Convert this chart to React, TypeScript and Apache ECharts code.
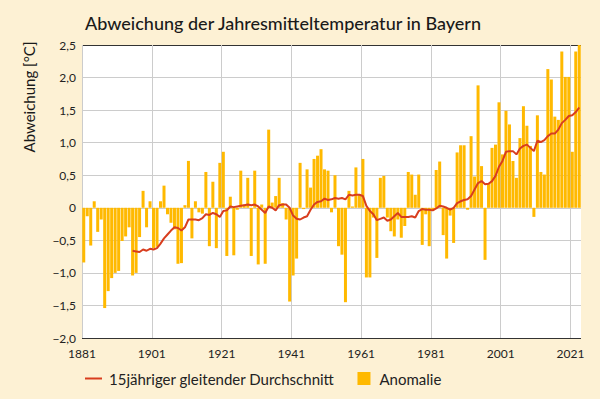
import React, { useEffect, useRef } from "react";
import * as echarts from "echarts";

const FIRST_YEAR = 1881;
// Annual anomaly (°C), 1881–2023
const anomalies = [
  -0.84, -0.13, -0.58, 0.1, -0.37, -0.18, -1.54, -1.28, -1.08, -1.0,
  -0.97, -0.51, -0.44, -0.3, -1.04, -1.0, -0.45, 0.26, -0.3, 0.1,
  -0.62, -0.6, 0.1, 0.34, -0.1, -0.23, -0.33, -0.86, -0.85, 0.04,
  0.72, -0.47, 0.1, -0.07, -0.09, 0.55, -0.59, 0.4, -0.62, 0.69,
  0.86, -0.74, 0.17, -0.73, -0.03, 0.57, 0.05, 0.46, -0.74, 0.57,
  -0.87, 0.05, -0.86, 1.2, 0.08, 0.18, 0.46, 0.07, -0.18, -1.44,
  -1.04, -0.78, 0.69, -0.02, 0.59, 0.31, 0.75, 0.8, 0.9, 0.59,
  0.57, -0.07, 0.5, -0.59, -0.72, -1.45, 0.26, 0.02, 0.62, 0.2,
  0.75, -1.07, -1.07, -0.15, -0.77, 0.46, 0.49, -0.15, -0.36, -0.44,
  -0.18, -0.46, -0.28, 0.55, 0.51, 0.2, 0.51, -0.57, -0.1, -0.59,
  -0.05, 0.58, 0.71, -0.42, -0.78, -0.12, -0.54, 0.85, 0.96, 0.96,
  -0.03, 1.1, 0.48, 1.88, 0.64, -0.8, 0.37, 0.92, 0.97, 1.62,
  0.82, 1.49, 1.28, 0.72, 0.46, 1.07, 1.56, 1.26, 0.95, -0.14,
  1.42, 0.55, 0.51, 2.13, 1.97, 1.4, 1.35, 2.4, 2.01, 2.01,
  0.86, 2.4, 2.52,
];

const MA_FIRST_YEAR = 1895;
// 15-year moving average (°C), 1895–2023
const movingAverage = [
  -0.66, -0.67, -0.68, -0.64, -0.66, -0.63,
  -0.64, -0.62, -0.55, -0.47, -0.41, -0.35, -0.3, -0.31, -0.35, -0.3,
  -0.18, -0.18, -0.18, -0.19, -0.16, -0.1, -0.11, -0.08, -0.1, -0.14,
  -0.05, -0.04, 0.02, 0.01, 0.02, 0.03, 0.04, 0.05, 0.04, 0.05,
  0.02, -0.03, -0.08, 0.02, 0.0, -0.04, 0.04, 0.05, 0.05, 0.0,
  -0.12, -0.17, -0.18, -0.15, -0.13, -0.03, 0.05, 0.09, 0.1, 0.14,
  0.12, 0.13, 0.15, 0.14, 0.15, 0.13, 0.2, 0.19, 0.2, 0.2,
  0.18, 0.03, -0.05, -0.1, -0.19, -0.17, -0.15, -0.2, -0.18, -0.13,
  -0.08, -0.14, -0.14, -0.14, -0.13, -0.15, -0.05, -0.02, -0.03, -0.03,
  -0.04, -0.01, 0.03, 0.02, 0.0, -0.03, 0.0, 0.07, 0.1, 0.12,
  0.13, 0.18, 0.28, 0.38, 0.41, 0.36, 0.37, 0.41, 0.49, 0.63,
  0.72, 0.86, 0.87, 0.87, 0.82, 0.91, 0.95, 0.97, 0.92, 0.87,
  1.03, 1.01, 1.04, 1.1, 1.14, 1.14, 1.2, 1.3, 1.35, 1.41,
  1.42, 1.47, 1.54,
];

const X_TICK_STEP = 20;
const Y_MIN = -2;
const Y_MAX = 2.5;
const Y_STEP = 0.5;

const TITLE = "Abweichung der Jahresmitteltemperatur in Bayern";
const Y_NAME = "Abweichung [°C]";
const LINE_NAME = "15jähriger gleitender Durchschnitt";
const BAR_NAME = "Anomalie";

const FONT = "Lato, 'Open Sans', sans-serif";
const GRID_GRAY = "#cccccc";
const DARK = "#333333";
const BAR_COLOR = "#FFB900";
const LINE_COLOR = "#D83D1E";

export default function App() {
  const ref = useRef<HTMLDivElement>(null);

  useEffect(() => {
    if (!ref.current) return;
    const chart = echarts.init(ref.current, null, { renderer: "svg" });
    const nYears = anomalies.length;
    const barData = anomalies.map((v, i) => [i + 0.5, v]);
    const lineData = movingAverage.map((v, i) => [MA_FIRST_YEAR - FIRST_YEAR + i + 0.5, v]);

    const nY = Math.round((Y_MAX - Y_MIN) / Y_STEP) + 1;
    const yLineColors = Array.from({ length: nY }, (_, k) => (k === 0 || k === nY - 1 ? DARK : GRID_GRAY));
    const nX = Math.floor(nYears / X_TICK_STEP) + 1;
    const xLineColors = [...Array.from({ length: nX }, () => GRID_GRAY), "rgba(0,0,0,0)"];

    chart.setOption({
      animation: false,
      backgroundColor: "#FDF1D4",
      textStyle: { fontFamily: FONT },
      title: {
        text: TITLE,
        left: 85,
        top: 14,
        padding: 0,
        textStyle: { fontFamily: FONT, fontSize: 18, fontWeight: 500, color: "#1a1a1a" },
      },
      grid: {
        left: 82,
        right: 19,
        top: 45,
        bottom: 61,
        show: true,
        backgroundColor: "#ffffff",
        borderWidth: 0,
      },
      legend: {
        left: 85,
        top: 371,
        padding: 0,
        itemWidth: 17,
        itemHeight: 13,
        itemGap: 23,
        textStyle: { fontFamily: FONT, fontSize: 15, color: "#222", padding: [0, 0, 0, 2] },
        data: [
          { name: LINE_NAME, icon: "path://M0,0h17v2h-17z", itemStyle: { color: LINE_COLOR } },
          { name: BAR_NAME, icon: "path://M0,0h13v13h-13z", itemStyle: { color: BAR_COLOR } },
        ],
      },
      xAxis: {
        type: "value",
        min: 0,
        max: nYears,
        interval: X_TICK_STEP,
        axisLine: { show: false },
        axisTick: { show: false },
        axisLabel: {
          showMaxLabel: false,
          margin: 9,
          fontSize: 12,
          color: "#222",
          fontFamily: FONT,
          formatter: (v: number) => (v % X_TICK_STEP === 0 ? String(FIRST_YEAR + v) : ""),
        },
        splitLine: { show: true, lineStyle: { color: xLineColors, width: 1 } },
      },
      yAxis: {
        type: "value",
        min: Y_MIN,
        max: Y_MAX,
        interval: Y_STEP,
        axisLine: { show: false },
        axisTick: { show: false },
        axisLabel: {
          margin: 6,
          fontSize: 12,
          color: "#222",
          fontFamily: FONT,
          formatter: (v: number) =>
            Math.abs(v) < 1e-9 ? "0" : v.toFixed(1).replace(".", ",").replace("-", "\u2212"),
        },
        splitLine: { show: true, lineStyle: { color: yLineColors, width: 1 } },
      },
      graphic: [
        {
          type: "text",
          x: 29,
          y: 97,
          rotation: Math.PI / 2,
          style: {
            text: Y_NAME,
            fontFamily: FONT,
            fontSize: 15,
            fill: "#1a1a1a",
            align: "center",
            verticalAlign: "middle",
          },
        },
      ],
      series: [
        {
          name: BAR_NAME,
          type: "bar",
          data: barData,
          barWidth: 3,
          itemStyle: { color: BAR_COLOR },
          z: 2,
        },
        {
          name: LINE_NAME,
          type: "line",
          data: lineData,
          symbol: "none",
          lineStyle: { color: LINE_COLOR, width: 2 },
          itemStyle: { color: LINE_COLOR },
          z: 3,
        },
      ],
    });
    return () => chart.dispose();
  }, []);

  return (
    <div
      ref={ref}
      style={{ position: "absolute", left: 0, top: 0, width: 600, height: 399 }}
    />
  );
}
